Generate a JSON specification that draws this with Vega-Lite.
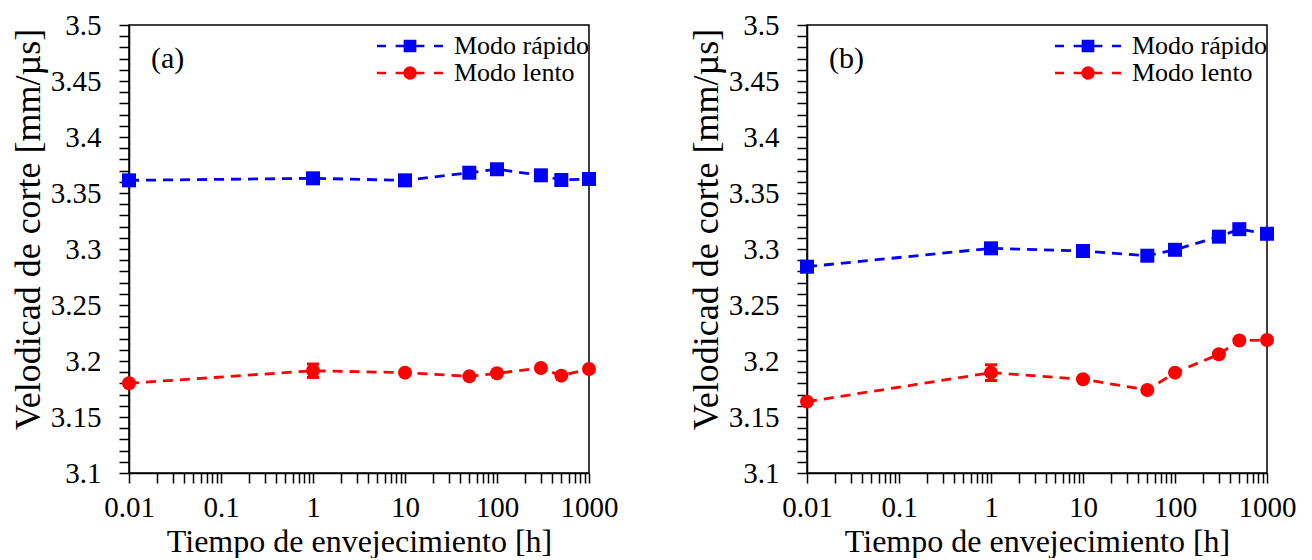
{
  "$schema": "https://vega.github.io/schema/vega-lite/v6.json",
  "padding": {"left": 9, "top": 10, "right": 5, "bottom": 0},
  "datasets": {
    "pts": [
      {"panel": "a", "series": "Modo rápido", "t": 0.01, "v": 3.3613},
      {"panel": "a", "series": "Modo rápido", "t": 1, "v": 3.3631},
      {"panel": "a", "series": "Modo rápido", "t": 10, "v": 3.3613},
      {"panel": "a", "series": "Modo rápido", "t": 50, "v": 3.3681},
      {"panel": "a", "series": "Modo rápido", "t": 100, "v": 3.3712},
      {"panel": "a", "series": "Modo rápido", "t": 300, "v": 3.3658},
      {"panel": "a", "series": "Modo rápido", "t": 500, "v": 3.3616},
      {"panel": "a", "series": "Modo rápido", "t": 1000, "v": 3.3625},
      {"panel": "a", "series": "Modo lento", "t": 0.01, "v": 3.1801},
      {"panel": "a", "series": "Modo lento", "t": 1, "v": 3.1913, "lo": 3.1853, "hi": 3.1973},
      {"panel": "a", "series": "Modo lento", "t": 10, "v": 3.1896},
      {"panel": "a", "series": "Modo lento", "t": 50, "v": 3.1863},
      {"panel": "a", "series": "Modo lento", "t": 100, "v": 3.189},
      {"panel": "a", "series": "Modo lento", "t": 300, "v": 3.1938},
      {"panel": "a", "series": "Modo lento", "t": 500, "v": 3.1869},
      {"panel": "a", "series": "Modo lento", "t": 1000, "v": 3.1929},
      {"panel": "b", "series": "Modo rápido", "t": 0.01, "v": 3.2842},
      {"panel": "b", "series": "Modo rápido", "t": 1, "v": 3.3006},
      {"panel": "b", "series": "Modo rápido", "t": 10, "v": 3.2982},
      {"panel": "b", "series": "Modo rápido", "t": 50, "v": 3.294},
      {"panel": "b", "series": "Modo rápido", "t": 100, "v": 3.2993},
      {"panel": "b", "series": "Modo rápido", "t": 300, "v": 3.311},
      {"panel": "b", "series": "Modo rápido", "t": 500, "v": 3.3177},
      {"panel": "b", "series": "Modo rápido", "t": 1000, "v": 3.3136},
      {"panel": "b", "series": "Modo lento", "t": 0.01, "v": 3.1637},
      {"panel": "b", "series": "Modo lento", "t": 1, "v": 3.1896, "lo": 3.1826, "hi": 3.1966},
      {"panel": "b", "series": "Modo lento", "t": 10, "v": 3.1837},
      {"panel": "b", "series": "Modo lento", "t": 50, "v": 3.1741},
      {"panel": "b", "series": "Modo lento", "t": 100, "v": 3.1896},
      {"panel": "b", "series": "Modo lento", "t": 300, "v": 3.2060},
      {"panel": "b", "series": "Modo lento", "t": 500, "v": 3.2183},
      {"panel": "b", "series": "Modo lento", "t": 1000, "v": 3.2188}
    ]
  },
  "spacing": 68,
  "resolve": {"scale": {"color": "independent"}, "legend": {"color": "independent"}},
  "hconcat": [
    {
      "width": 460,
      "height": 448,
      "title": {"text": "(a)", "anchor": "start", "frame": "group", "orient": "top", "baseline": "top", "offset": -63, "dx": 22, "fontSize": 30, "font": "Liberation Serif", "fontWeight": "normal", "color": "black"},
      "encoding": {
        "x": {"field": "t", "type": "quantitative", "scale": {"type": "log", "domain": [0.01, 1000]},
          "axis": {"title": "Tiempo de envejecimiento [h]",
            "values": [0.01,0.02,0.03,0.04,0.05,0.06,0.07,0.08,0.09,0.1,0.2,0.3,0.4,0.5,0.6,0.7,0.8,0.9,1,2,3,4,5,6,7,8,9,10,20,30,40,50,60,70,80,90,100,200,300,400,500,600,700,800,900,1000],
            "labelExpr": "abs(log(datum.value)/log(10) - round(log(datum.value)/log(10))) < 1e-6 ? format(datum.value, '~g') : ''",
            "tickSize": 10,
            "encode": {"ticks": {"update": {"y2": {"signal": "abs(log(datum.value)/log(10) - round(log(datum.value)/log(10))) < 1e-6 ? 10 : 5"}}}},
            "labelOverlap": false, "labelFlush": false, "labelBound": false, "labelPadding": 10, "titlePadding": 4, "titleFontSize": 32}},
        "y": {"field": "v", "type": "quantitative", "scale": {"domain": [3.1, 3.5]},
          "axis": {"title": "Velodicad de corte [mm/µs]",
            "values": [3.1,3.11,3.12,3.13,3.14,3.15,3.16,3.17,3.18,3.19,3.2,3.21,3.22,3.23,3.24,3.25,3.26,3.27,3.28,3.29,3.3,3.31,3.32,3.33,3.34,3.35,3.36,3.37,3.38,3.39,3.4,3.41,3.42,3.43,3.44,3.45,3.46,3.47,3.48,3.49,3.5],
            "labelExpr": "abs(datum.value*20 - round(datum.value*20)) < 1e-6 ? format(datum.value, '~g') : ''",
            "tickSize": 10,
            "encode": {"ticks": {"update": {"x2": {"signal": "abs(datum.value*20 - round(datum.value*20)) < 1e-6 ? -10 : -7"}}}},
            "labelOverlap": false, "labelBound": false, "labelPadding": 18, "titlePadding": 3, "titleFontSize": 36, "titleY": 204}}
      },
      "layer": [
        {
          "data": {"name": "pts"},
          "transform": [{"filter": "datum.panel == 'a'"}],
          "mark": {"type": "line", "strokeDash": [10, 7], "strokeWidth": 2.8},
          "encoding": {
            "color": {"field": "series", "type": "nominal",
              "scale": {"domain": ["Modo rápido", "Modo lento"], "range": ["#0000ff", "#ff0000"]},
              "legend": {"title": null, "orient": "none", "legendX": 268, "legendY": 8,
                "labelFontSize": 26, "labelOffset": 31, "symbolSize": 144, "rowPadding": 1, "padding": 0,
                "symbolStrokeWidth": 2.5, "symbolDash": [1, 0],
                "encode": {"symbols": {"update": {
                  "shape": {"signal": "datum.value == 'Modo rápido' ? 'M-5.5,0H-4M-2.4,0H2.4M4,0H5.5M-0.85,-0.85H0.85V0.85H-0.85Z' : 'M-5.5,0H-4M-2.4,0H2.4M4,0H5.5M-0.9,0A0.9,0.9,0,1,0,0.9,0A0.9,0.9,0,1,0,-0.9,0Z'"},
                  "fill": {"signal": "datum.value == 'Modo rápido' ? '#0000ff' : '#ff0000'"},
                  "stroke": {"signal": "datum.value == 'Modo rápido' ? '#0000ff' : '#ff0000'"},
                  "strokeWidth": {"value": 2.5},
                  "strokeDash": {"value": [1, 0]},
                  "size": {"value": 144},
                  "opacity": {"value": 1},
                  "strokeOpacity": {"value": 1},
                  "fillOpacity": {"value": 1}}}}}}
          }
        },
        {
          "data": {"name": "pts"},
          "transform": [{"filter": "datum.panel == 'a' && isValid(datum.lo)"}],
          "mark": {"type": "rule", "strokeWidth": 3, "color": "#ff0000"},
          "encoding": {"y": {"field": "lo", "type": "quantitative"}, "y2": {"field": "hi"}}
        },
        {
          "data": {"name": "pts"},
          "transform": [{"filter": "datum.panel == 'a' && isValid(datum.lo)"}, {"fold": ["lo", "hi"], "as": ["end", "ev"]}],
          "mark": {"type": "tick", "orient": "horizontal", "size": 12, "thickness": 3, "color": "#ff0000", "opacity": 1},
          "encoding": {"y": {"field": "ev", "type": "quantitative"}}
        },
        {
          "data": {"name": "pts"},
          "transform": [{"filter": "datum.panel == 'a'"}],
          "mark": {"type": "point", "filled": true, "opacity": 1, "size": 196, "strokeWidth": 0},
          "encoding": {
            "fill": {"field": "series", "type": "nominal", "scale": {"domain": ["Modo rápido", "Modo lento"], "range": ["#0000ff", "#ff0000"]}, "legend": null},
            "shape": {"field": "series", "type": "nominal", "scale": {"domain": ["Modo rápido", "Modo lento"], "range": ["square", "circle"]}, "legend": null}
          }
        }
      ]
    },
    {
      "width": 460,
      "height": 448,
      "title": {"text": "(b)", "anchor": "start", "frame": "group", "orient": "top", "baseline": "top", "offset": -63, "dx": 22, "fontSize": 30, "font": "Liberation Serif", "fontWeight": "normal", "color": "black"},
      "encoding": {
        "x": {"field": "t", "type": "quantitative", "scale": {"type": "log", "domain": [0.01, 1000]},
          "axis": {"title": "Tiempo de envejecimiento [h]",
            "values": [0.01,0.02,0.03,0.04,0.05,0.06,0.07,0.08,0.09,0.1,0.2,0.3,0.4,0.5,0.6,0.7,0.8,0.9,1,2,3,4,5,6,7,8,9,10,20,30,40,50,60,70,80,90,100,200,300,400,500,600,700,800,900,1000],
            "labelExpr": "abs(log(datum.value)/log(10) - round(log(datum.value)/log(10))) < 1e-6 ? format(datum.value, '~g') : ''",
            "tickSize": 10,
            "encode": {"ticks": {"update": {"y2": {"signal": "abs(log(datum.value)/log(10) - round(log(datum.value)/log(10))) < 1e-6 ? 10 : 5"}}}},
            "labelOverlap": false, "labelFlush": false, "labelBound": false, "labelPadding": 10, "titlePadding": 4, "titleFontSize": 32}},
        "y": {"field": "v", "type": "quantitative", "scale": {"domain": [3.1, 3.5]},
          "axis": {"title": "Velodicad de corte [mm/µs]",
            "values": [3.1,3.11,3.12,3.13,3.14,3.15,3.16,3.17,3.18,3.19,3.2,3.21,3.22,3.23,3.24,3.25,3.26,3.27,3.28,3.29,3.3,3.31,3.32,3.33,3.34,3.35,3.36,3.37,3.38,3.39,3.4,3.41,3.42,3.43,3.44,3.45,3.46,3.47,3.48,3.49,3.5],
            "labelExpr": "abs(datum.value*20 - round(datum.value*20)) < 1e-6 ? format(datum.value, '~g') : ''",
            "tickSize": 10,
            "encode": {"ticks": {"update": {"x2": {"signal": "abs(datum.value*20 - round(datum.value*20)) < 1e-6 ? -10 : -7"}}}},
            "labelOverlap": false, "labelBound": false, "labelPadding": 18, "titlePadding": 3, "titleFontSize": 36, "titleY": 204}}
      },
      "layer": [
        {
          "data": {"name": "pts"},
          "transform": [{"filter": "datum.panel == 'b'"}],
          "mark": {"type": "line", "strokeDash": [10, 7], "strokeWidth": 2.8},
          "encoding": {
            "color": {"field": "series", "type": "nominal",
              "scale": {"domain": ["Modo rápido", "Modo lento"], "range": ["#0000ff", "#ff0000"]},
              "legend": {"title": null, "orient": "none", "legendX": 268, "legendY": 8,
                "labelFontSize": 26, "labelOffset": 31, "symbolSize": 144, "rowPadding": 1, "padding": 0,
                "symbolStrokeWidth": 2.5, "symbolDash": [1, 0],
                "encode": {"symbols": {"update": {
                  "shape": {"signal": "datum.value == 'Modo rápido' ? 'M-5.5,0H-4M-2.4,0H2.4M4,0H5.5M-0.85,-0.85H0.85V0.85H-0.85Z' : 'M-5.5,0H-4M-2.4,0H2.4M4,0H5.5M-0.9,0A0.9,0.9,0,1,0,0.9,0A0.9,0.9,0,1,0,-0.9,0Z'"},
                  "fill": {"signal": "datum.value == 'Modo rápido' ? '#0000ff' : '#ff0000'"},
                  "stroke": {"signal": "datum.value == 'Modo rápido' ? '#0000ff' : '#ff0000'"},
                  "strokeWidth": {"value": 2.5},
                  "strokeDash": {"value": [1, 0]},
                  "size": {"value": 144},
                  "opacity": {"value": 1},
                  "strokeOpacity": {"value": 1},
                  "fillOpacity": {"value": 1}}}}}}
          }
        },
        {
          "data": {"name": "pts"},
          "transform": [{"filter": "datum.panel == 'b' && isValid(datum.lo)"}],
          "mark": {"type": "rule", "strokeWidth": 3, "color": "#ff0000"},
          "encoding": {"y": {"field": "lo", "type": "quantitative"}, "y2": {"field": "hi"}}
        },
        {
          "data": {"name": "pts"},
          "transform": [{"filter": "datum.panel == 'b' && isValid(datum.lo)"}, {"fold": ["lo", "hi"], "as": ["end", "ev"]}],
          "mark": {"type": "tick", "orient": "horizontal", "size": 12, "thickness": 3, "color": "#ff0000", "opacity": 1},
          "encoding": {"y": {"field": "ev", "type": "quantitative"}}
        },
        {
          "data": {"name": "pts"},
          "transform": [{"filter": "datum.panel == 'b'"}],
          "mark": {"type": "point", "filled": true, "opacity": 1, "size": 196, "strokeWidth": 0},
          "encoding": {
            "fill": {"field": "series", "type": "nominal", "scale": {"domain": ["Modo rápido", "Modo lento"], "range": ["#0000ff", "#ff0000"]}, "legend": null},
            "shape": {"field": "series", "type": "nominal", "scale": {"domain": ["Modo rápido", "Modo lento"], "range": ["square", "circle"]}, "legend": null}
          }
        }
      ]
    }
  ],
  "config": {
    "font": "Liberation Serif",
    "view": {"stroke": "black", "strokeWidth": 1.5},
    "axis": {"grid": false, "domainColor": "black", "domainWidth": 1.5, "tickColor": "black", "tickWidth": 1.5,
      "labelColor": "black", "titleColor": "black", "labelFont": "Liberation Serif", "titleFont": "Liberation Serif",
      "labelFontSize": 29, "titleFontWeight": "normal", "labelOverlap": false},
    "legend": {"labelFont": "Liberation Serif", "labelColor": "black"}
  }
}
